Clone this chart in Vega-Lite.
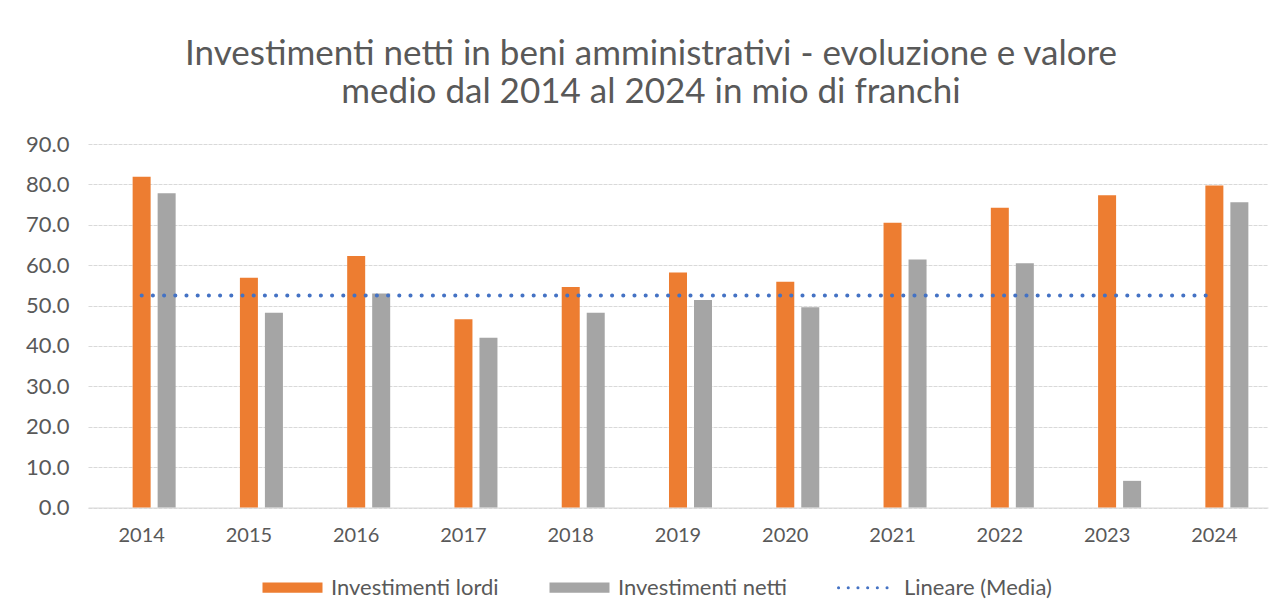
{
  "$schema": "https://vega.github.io/schema/vega-lite/v6.json",
  "width": 1180,
  "height": 363.5,
  "autosize": {"type": "none"},
  "padding": {"left": 88, "top": 144, "right": 15, "bottom": 104.5},
  "background": "white",
  "config": {
    "font": "Lato",
    "view": {"stroke": null},
    "axis": {"labelFont": "Lato", "labelColor": "#595959"}
  },
  "title": {
    "text": ["Investimenti netti in beni amministrativi - evoluzione e valore", "medio dal 2014 al 2024 in mio di franchi"],
    "font": "Lato",
    "fontSize": 35,
    "fontWeight": "normal",
    "color": "#595959",
    "lineHeight": 38,
    "anchor": "middle",
    "frame": "group",
    "dx": -27,
    "offset": 23
  },
  "datasets": {
    "barre": [
      {"anno": "2014", "serie": "Investimenti lordi", "valore": 81.9},
      {"anno": "2014", "serie": "Investimenti netti", "valore": 77.8},
      {"anno": "2015", "serie": "Investimenti lordi", "valore": 56.9},
      {"anno": "2015", "serie": "Investimenti netti", "valore": 48.2},
      {"anno": "2016", "serie": "Investimenti lordi", "valore": 62.3},
      {"anno": "2016", "serie": "Investimenti netti", "valore": 53.0},
      {"anno": "2017", "serie": "Investimenti lordi", "valore": 46.6},
      {"anno": "2017", "serie": "Investimenti netti", "valore": 42.0},
      {"anno": "2018", "serie": "Investimenti lordi", "valore": 54.6},
      {"anno": "2018", "serie": "Investimenti netti", "valore": 48.2},
      {"anno": "2019", "serie": "Investimenti lordi", "valore": 58.2},
      {"anno": "2019", "serie": "Investimenti netti", "valore": 51.4},
      {"anno": "2020", "serie": "Investimenti lordi", "valore": 55.9},
      {"anno": "2020", "serie": "Investimenti netti", "valore": 49.6},
      {"anno": "2021", "serie": "Investimenti lordi", "valore": 70.5},
      {"anno": "2021", "serie": "Investimenti netti", "valore": 61.4},
      {"anno": "2022", "serie": "Investimenti lordi", "valore": 74.2},
      {"anno": "2022", "serie": "Investimenti netti", "valore": 60.5},
      {"anno": "2023", "serie": "Investimenti lordi", "valore": 77.3},
      {"anno": "2023", "serie": "Investimenti netti", "valore": 6.6},
      {"anno": "2024", "serie": "Investimenti lordi", "valore": 79.7},
      {"anno": "2024", "serie": "Investimenti netti", "valore": 75.6}
    ],
    "media": [
      {"anno": "2014", "media": 52.5},
      {"anno": "2015", "media": 52.5},
      {"anno": "2016", "media": 52.5},
      {"anno": "2017", "media": 52.5},
      {"anno": "2018", "media": 52.5},
      {"anno": "2019", "media": 52.5},
      {"anno": "2020", "media": 52.5},
      {"anno": "2021", "media": 52.5},
      {"anno": "2022", "media": 52.5},
      {"anno": "2023", "media": 52.5},
      {"anno": "2024", "media": 52.5}
    ]
  },
  "encoding": {
    "x": {
      "field": "anno",
      "type": "nominal",
      "scale": {"paddingInner": 0.366, "paddingOuter": 0.183},
      "axis": {
        "title": null,
        "labelAngle": 0,
        "labelFontSize": 20,
        "labelPadding": 18,
        "ticks": false,
        "domainColor": "#d9d9d9",
        "domainWidth": 1,
        "grid": false
      }
    }
  },
  "layer": [
    {
      "data": {"name": "barre"},
      "mark": {"type": "bar"},
      "encoding": {
        "xOffset": {
          "field": "serie",
          "type": "nominal",
          "scale": {"domain": ["Media", "Investimenti lordi", "Investimenti netti"], "paddingInner": 0.28, "paddingOuter": 0}
        },
        "y": {
          "field": "valore",
          "type": "quantitative",
          "scale": {"domain": [0, 90], "nice": false},
          "axis": {
            "title": null,
            "values": [0, 10, 20, 30, 40, 50, 60, 70, 80, 90],
            "format": ".1f",
            "labelFontSize": 22,
            "labelPadding": 19,
            "ticks": false,
            "domain": false,
            "gridColor": "#d9d9d9",
            "gridWidth": 1,
            "gridDash": [4, 1]
          }
        },
        "color": {
          "field": "serie",
          "type": "nominal",
          "scale": {
            "domain": ["Investimenti lordi", "Investimenti netti", "Lineare (Media)"],
            "range": ["#ED7D31", "#A5A5A5", "#4472C4"]
          },
          "legend": {
            "title": null,
            "orient": "none",
            "direction": "horizontal",
            "legendX": 173,
            "legendY": 412,
            "padding": 0,
            "symbolSize": 3600,
            "labelFont": "Lato",
            "labelFontSize": 22,
            "labelLimit": 400,
            "labelColor": "#595959",
            "labelOffset": 7,
            "columnPadding": 44,
            "encode": {
              "symbols": {
                "update": {
                  "shape": {"signal": "datum.value === 'Lineare (Media)' ? 'M-0.9,0H1' : 'M-1,-0.17H1V0.17H-1Z'"},
                  "fill": {"signal": "datum.value === 'Investimenti lordi' ? '#ED7D31' : (datum.value === 'Investimenti netti' ? '#A5A5A5' : 'transparent')"},
                  "stroke": {"signal": "datum.value === 'Lineare (Media)' ? '#4472C4' : 'transparent'"},
                  "strokeWidth": {"value": 3},
                  "strokeCap": {"value": "round"},
                  "strokeDash": {"signal": "datum.value === 'Lineare (Media)' ? [0.1, 9.6] : [1, 0]"}
                }
              }
            }
          }
        }
      }
    },
    {
      "data": {"name": "media"},
      "mark": {"type": "line", "color": "#4472C4", "strokeWidth": 4, "strokeCap": "round", "strokeDash": [0.1, 11.1]},
      "encoding": {
        "y": {"field": "media", "type": "quantitative"}
      }
    }
  ]
}
